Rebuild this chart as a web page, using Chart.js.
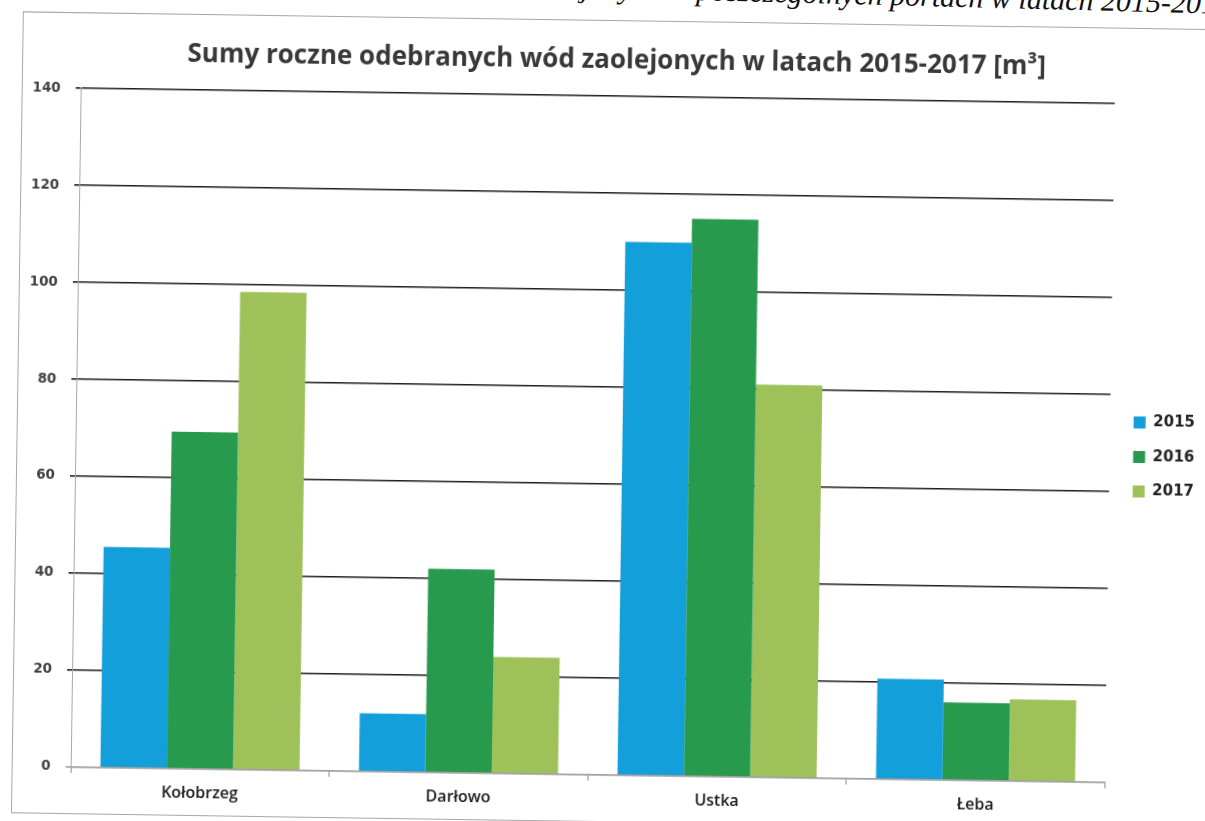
<!DOCTYPE html>
<html lang="pl">
<head>
<meta charset="utf-8">
<title>Sumy roczne odebranych wód zaolejonych</title>
<script src="https://cdn.jsdelivr.net/npm/chart.js@4.4.1/dist/chart.umd.min.js"></script>
<style>
  html, body { margin: 0; padding: 0; background: #fff; overflow: hidden; }
  body { width: 1205px; height: 821px; position: relative; }
  #caption {
    position: absolute; top: -13px; right: -26px;
    font: italic 30px "Liberation Serif", serif; color: #111;
    white-space: nowrap;
    transform: rotate(1.5deg); transform-origin: 100% 27px;
  }
  #frame {
    position: absolute; left: 17px; top: 20px;
    width: 1200px; height: 800px;
    border: 1px solid #a8a8a8;
    transform: rotate(0.85deg); transform-origin: 585px 390px;
  }
</style>
</head>
<body>
<div id="caption">Sumy roczne odebranych wód zaolejonych w poszczególnych portach w latach 2015-2017</div>
<div id="frame"><canvas id="chart" width="1200" height="800"></canvas></div>
<script>
const ports = ["Kołobrzeg", "Darłowo", "Ustka", "Łeba"];
const years = ["2015", "2016", "2017"];
const values2015 = [45.5, 12, 110, 20.7];
const values2016 = [69.5, 42, 115, 16];
const values2017 = [98.5, 24, 81, 16.8];
const yTicks = [0, 20, 40, 60, 80, 100, 120, 140];

const colors = ["#129fda", "#279a4d", "#9ec15a"];

const ctx = document.getElementById("chart").getContext("2d");

// gridline at zero is the grey axis, the rest are black
const gridColor = (c) => (c.tick && c.tick.value === 0 ? "#a0a0a0" : "#1e1e1e");

new Chart(ctx, {
  type: "bar",
  data: {
    labels: ports,
    datasets: [
      { label: years[0], data: values2015, backgroundColor: colors[0] },
      { label: years[1], data: values2016, backgroundColor: colors[1] },
      { label: years[2], data: values2017, backgroundColor: colors[2] },
    ],
  },
  options: {
    responsive: false,
    animation: false,
    layout: { padding: { left: 0, right: 13, top: 0, bottom: 3 } },
    datasets: {
      bar: { barPercentage: 1.0, categoryPercentage: 0.77, borderWidth: 0 },
    },
    plugins: {
      tooltip: { enabled: false },
      title: {
        display: true,
        text: "Sumy roczne odebranych wód zaolejonych w latach 2015-2017 [m³]",
        color: "#383838",
        font: { family: "Open Sans", size: 26, weight: "bold" },
        padding: { top: 24, bottom: 20 },
      },
      legend: {
        position: "right",
        align: "center",
        // blank title, pushes the legend items a bit lower
        title: { display: true, text: " ", font: { size: 10 }, padding: { top: 0, bottom: 47 } },
        labels: {
          boxWidth: 12,
          boxHeight: 12,
          padding: 19.5,
          color: "#222",
          font: { family: "DejaVu Sans", size: 15, weight: "bold" },
        },
      },
    },
    scales: {
      x: {
        grid: {
          display: true,
          drawOnChartArea: false,
          drawTicks: true,
          tickLength: 6,
          color: "#888",
        },
        border: { display: true, color: "#a0a0a0", width: 1.5 },
        ticks: {
          color: "#1a1a1a",
          padding: 9,
          font: { family: "Open Sans", size: 16, weight: "600" },
        },
      },
      y: {
        min: 0,
        max: 140,
        afterBuildTicks: (scale) => {
          scale.ticks = yTicks.map((v) => ({ value: v }));
        },
        afterFit: (scale) => {
          scale.width = 58;
        },
        grid: {
          color: gridColor,
          lineWidth: 1.6,
          drawTicks: true,
          tickLength: 5,
        },
        border: { display: true, color: "#a8a8a8", width: 1 },
        ticks: {
          color: "#404040",
          padding: 15,
          font: { family: "DejaVu Sans", size: 13.5, weight: "bold" },
        },
      },
      // empty axis, only keeps a gap between the plot and the legend
      gap: {
        type: "linear",
        position: "right",
        display: true,
        grid: { display: false },
        border: { display: false },
        ticks: { display: false },
        afterFit: (scale) => {
          scale.width = 4;
        },
      },
    },
  },
});
</script>
</body>
</html>
